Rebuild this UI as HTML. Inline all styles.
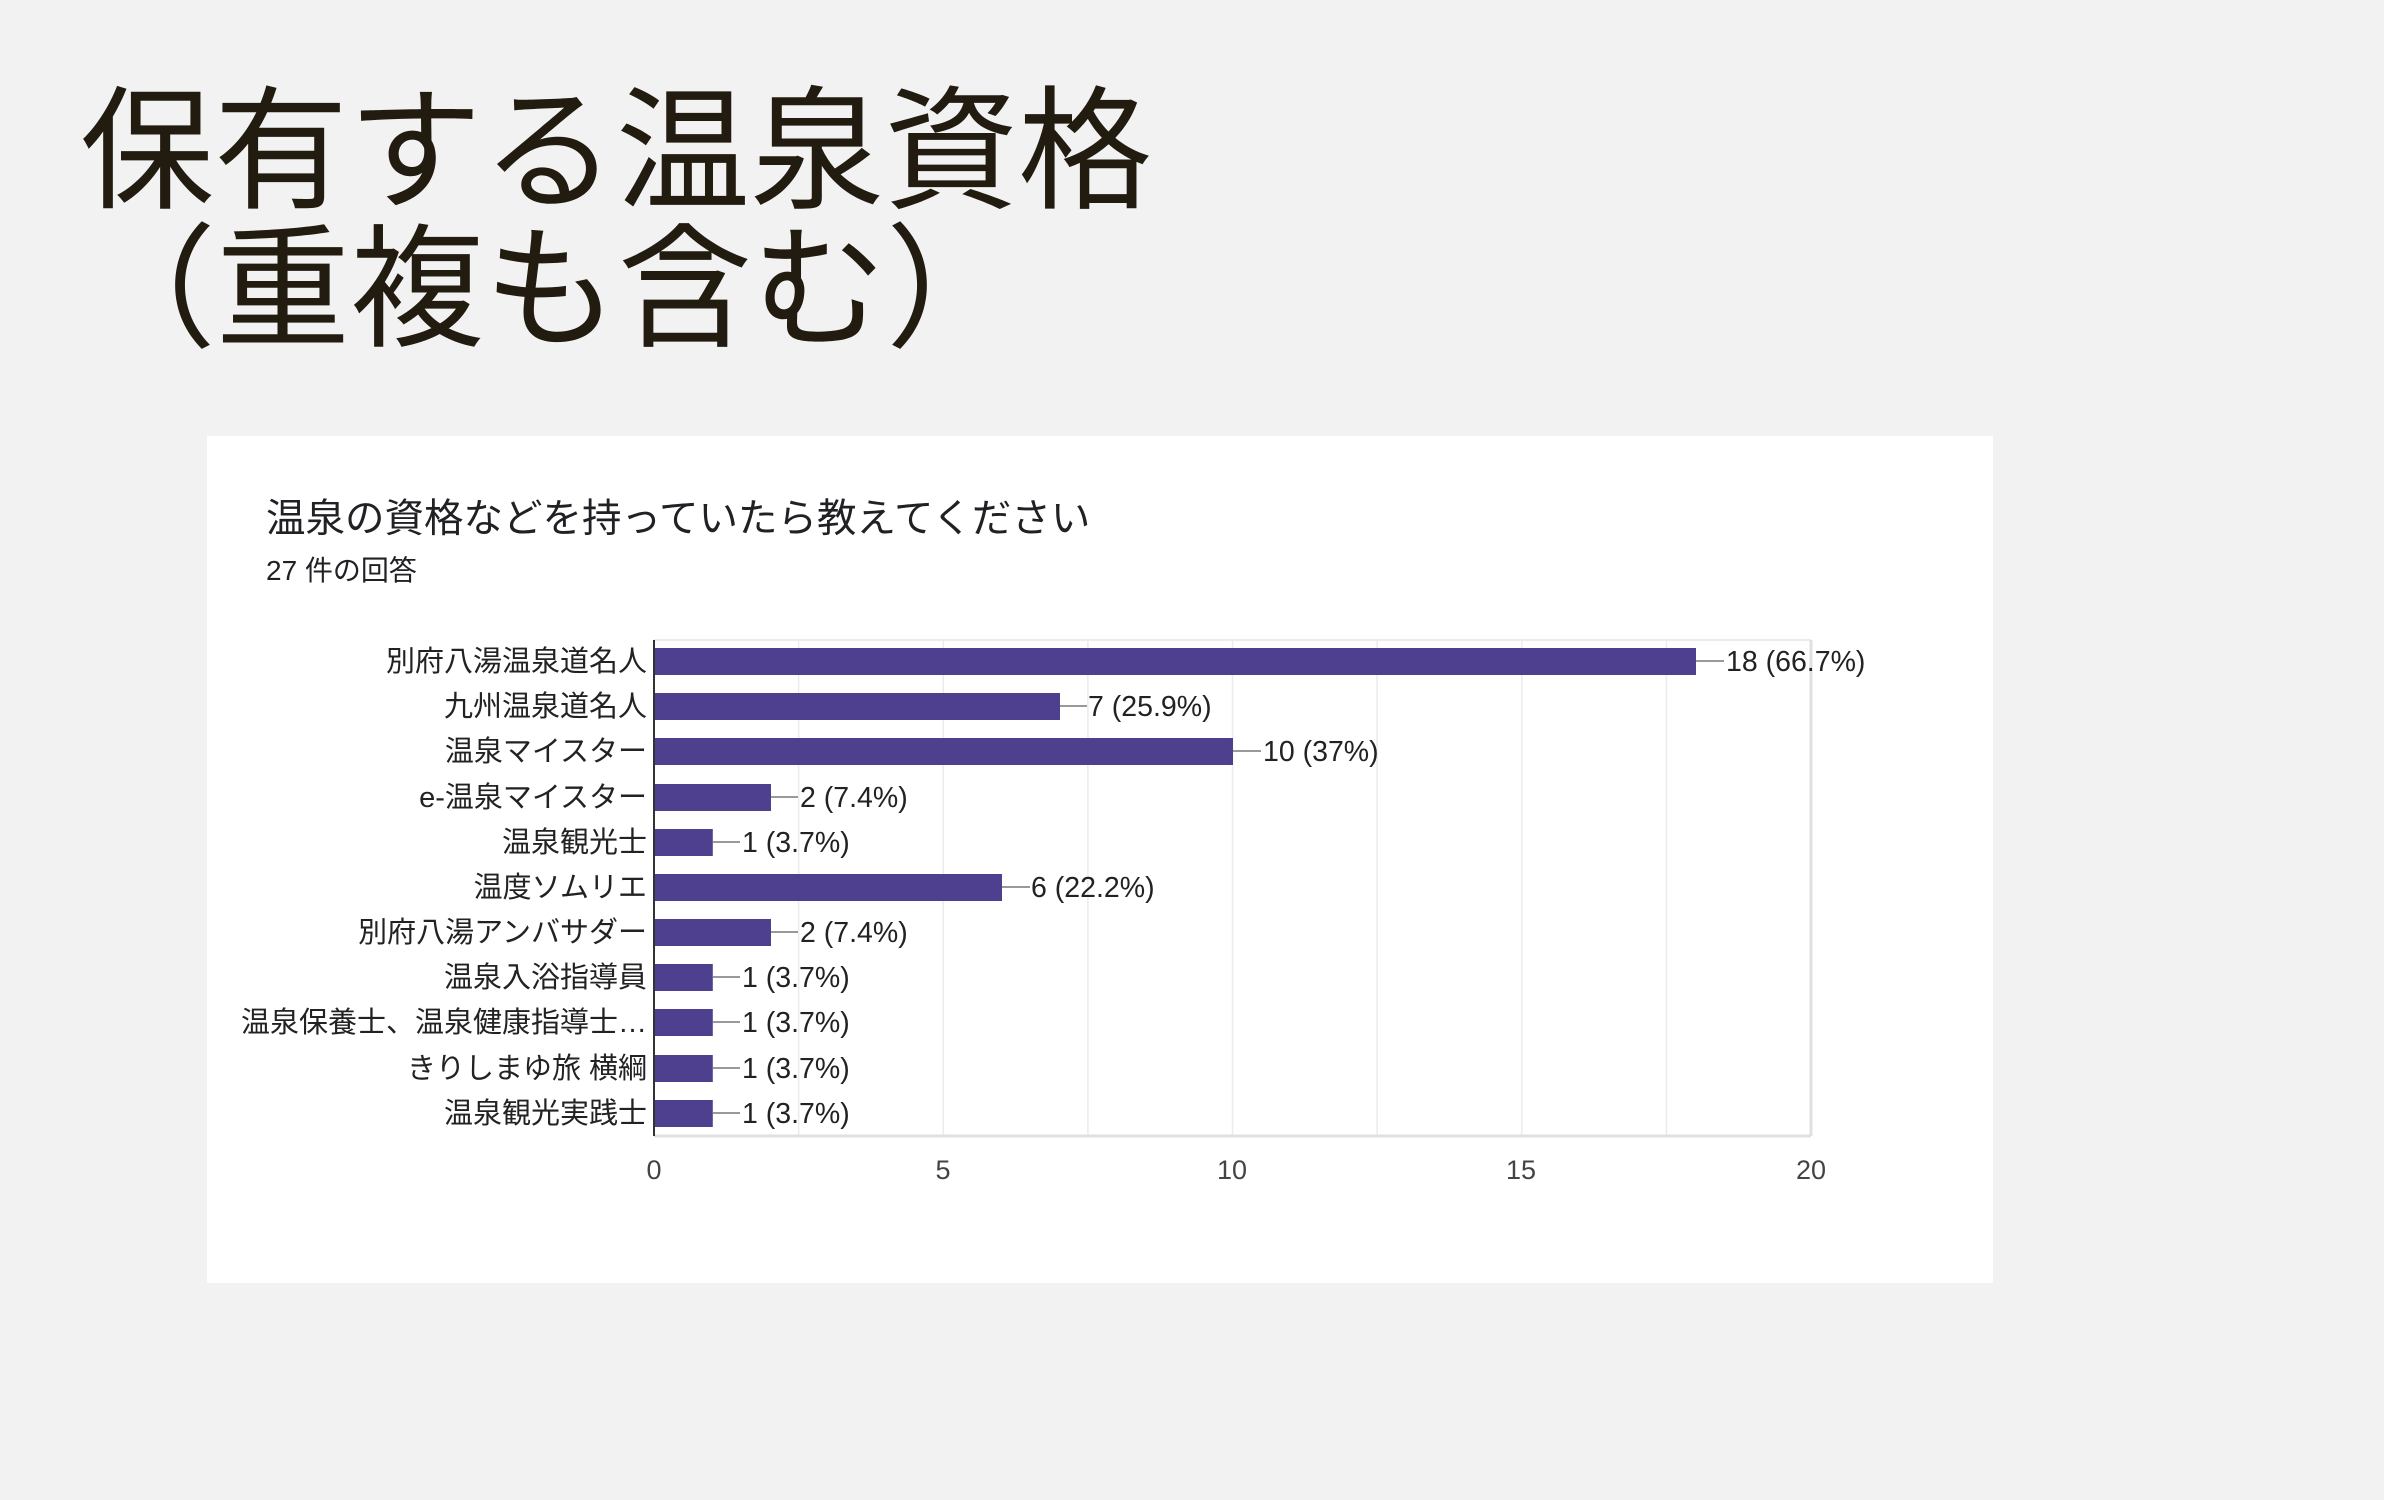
<!DOCTYPE html>
<html><head><meta charset="utf-8"><style>
body{margin:0;width:2384px;height:1500px;background:#f2f2f2;overflow:hidden;font-family:"Liberation Sans","Noto Sans CJK JP",sans-serif;}
.t{position:absolute;left:80px;font-size:134px;color:#221c10;line-height:1;white-space:nowrap;font-family:"Liberation Sans","Noto Sans CJK JP",sans-serif;}
</style></head><body>
<div class="t" style="top:86px;">保有する温泉資格</div>
<div class="t" style="top:224px;left:82px;">（重複も含む）</div>
<svg width="2384" height="1500" style="position:absolute;left:0;top:0" font-family="Liberation Sans, Noto Sans CJK JP, sans-serif">
<rect x="207" y="436" width="1786" height="847" fill="#fff"/>
<text x="266" y="532" font-size="39.5" fill="#202124">温泉の資格などを持っていたら教えてください</text>
<text x="266" y="580" font-size="28" fill="#202124">27 件の回答</text>
<g stroke="#ebebeb" stroke-width="1.5">
<line x1="798.6" y1="640" x2="798.6" y2="1136"/><line x1="943.3" y1="640" x2="943.3" y2="1136"/>
<line x1="1087.9" y1="640" x2="1087.9" y2="1136"/><line x1="1232.5" y1="640" x2="1232.5" y2="1136"/>
<line x1="1377.1" y1="640" x2="1377.1" y2="1136"/><line x1="1521.8" y1="640" x2="1521.8" y2="1136"/>
<line x1="1666.4" y1="640" x2="1666.4" y2="1136"/>
</g>
<line x1="654" y1="640" x2="1811" y2="640" stroke="#ebebeb" stroke-width="2"/>
<line x1="1811" y1="640" x2="1811" y2="1136" stroke="#e0e0e0" stroke-width="3"/>
<line x1="654" y1="1136" x2="1811" y2="1136" stroke="#e0e0e0" stroke-width="3"/>
<line x1="654" y1="640" x2="654" y2="1136" stroke="#333" stroke-width="2"/>
<g font-size="29" fill="#222">
<g text-anchor="end">
<text x="647" y="671">別府八湯温泉道名人</text>
<text x="647" y="716">九州温泉道名人</text>
<text x="647" y="761">温泉マイスター</text>
<text x="647" y="807">e-温泉マイスター</text>
<text x="647" y="852">温泉観光士</text>
<text x="647" y="897">温度ソムリエ</text>
<text x="647" y="942">別府八湯アンバサダー</text>
<text x="647" y="987">温泉入浴指導員</text>
<text x="647" y="1032">温泉保養士、温泉健康指導士…</text>
<text x="647" y="1078">きりしまゆ旅 横綱</text>
<text x="647" y="1123">温泉観光実践士</text>
</g>
</g>
<g fill="#4f3f8f">
<rect x="655" y="648" width="1041" height="27"/>
<rect x="655" y="693" width="405" height="27"/>
<rect x="655" y="738" width="578" height="27"/>
<rect x="655" y="784" width="116" height="27"/>
<rect x="655" y="829" width="57.8" height="27"/>
<rect x="655" y="874" width="347" height="27"/>
<rect x="655" y="919" width="116" height="27"/>
<rect x="655" y="964" width="57.8" height="27"/>
<rect x="655" y="1009" width="57.8" height="27"/>
<rect x="655" y="1055" width="57.8" height="27"/>
<rect x="655" y="1100" width="57.8" height="27"/>
</g>
<g stroke="#999" stroke-width="2">
<line x1="1696" y1="661" x2="1724" y2="661"/>
<line x1="1060" y1="706" x2="1087" y2="706"/>
<line x1="1233" y1="751" x2="1261" y2="751"/>
<line x1="771" y1="797" x2="798" y2="797"/>
<line x1="713" y1="842" x2="740" y2="842"/>
<line x1="1002" y1="887" x2="1030" y2="887"/>
<line x1="771" y1="932" x2="798" y2="932"/>
<line x1="713" y1="977" x2="740" y2="977"/>
<line x1="713" y1="1022" x2="740" y2="1022"/>
<line x1="713" y1="1068" x2="740" y2="1068"/>
<line x1="713" y1="1113" x2="740" y2="1113"/>
</g>
<g font-size="28.5" fill="#222">
<text x="1726" y="671">18 (66.7%)</text>
<text x="1088" y="716">7 (25.9%)</text>
<text x="1263" y="761">10 (37%)</text>
<text x="800" y="807">2 (7.4%)</text>
<text x="742" y="852">1 (3.7%)</text>
<text x="1031" y="897">6 (22.2%)</text>
<text x="800" y="942">2 (7.4%)</text>
<text x="742" y="987">1 (3.7%)</text>
<text x="742" y="1032">1 (3.7%)</text>
<text x="742" y="1078">1 (3.7%)</text>
<text x="742" y="1123">1 (3.7%)</text>
</g>
<g font-size="27" fill="#444" text-anchor="middle">
<text x="654" y="1179">0</text><text x="943" y="1179">5</text><text x="1232" y="1179">10</text>
<text x="1521" y="1179">15</text><text x="1811" y="1179">20</text>
</g>
</svg>
</body></html>
